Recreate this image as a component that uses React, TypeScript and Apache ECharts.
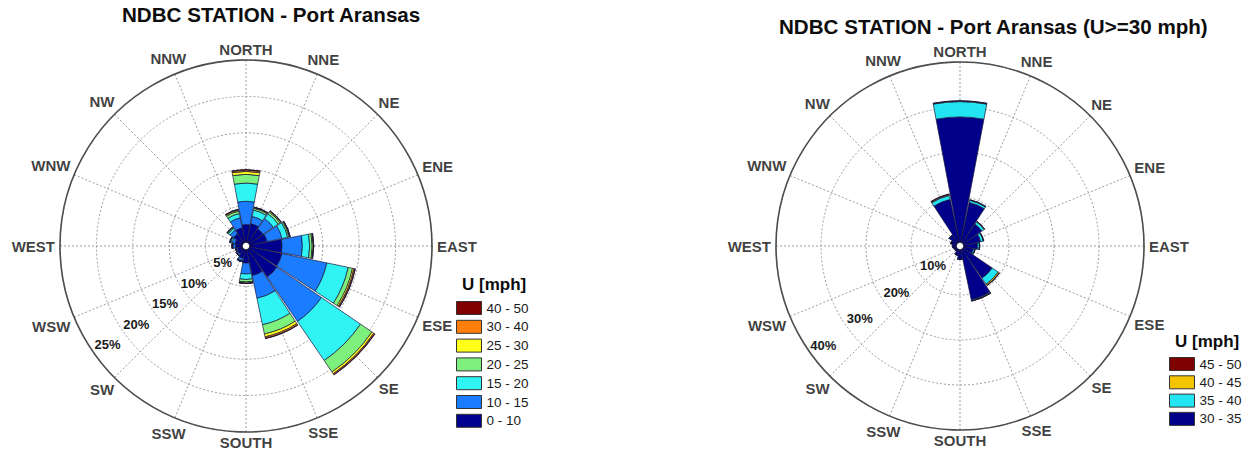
import React, { useEffect, useRef } from 'react';
import * as echarts from 'echarts';

// ---------------- data ----------------
const DIRECTIONS = ['NORTH', 'NNE', 'NE', 'ENE', 'EAST', 'ESE', 'SE', 'SSE', 'SOUTH', 'SSW', 'SW', 'WSW', 'WEST', 'WNW', 'NW', 'NNW'];

const LEFT_TITLE = 'NDBC STATION - Port Aransas';
const RIGHT_TITLE = 'NDBC STATION - Port Aransas (U>=30 mph)';
const LEGEND_TITLE = 'U [mph]';

// Left rose: frequency (%) per direction, per speed class (stacked outwards)
const LEFT_BINS = ['0 - 10', '10 - 15', '15 - 20', '20 - 25', '25 - 30', '30 - 40', '40 - 50'];
const LEFT_COLORS = ['#00008E', '#1C7CFF', '#30F4F4', '#7DF07D', '#FFFF1A', '#FF7F0A', '#800000'];
const L_0_10 = [2.4, 2.6, 2.3, 2.4, 4.4, 4.5, 4.6, 3.6, 1.8, 1.2, 0.8, 0.7, 0.9, 1.0, 1.5, 2.0];
const L_10_15 = [3.2, 1.0, 1.7, 2.1, 2.8, 6.3, 7.4, 3.2, 1.5, 0.3, 0.2, 0.15, 0.3, 0.4, 0.6, 1.4];
const L_15_20 = [2.5, 0.9, 0.8, 0.8, 1.0, 3.0, 6.5, 3.7, 0.75, 0.1, 0.05, 0.05, 0.1, 0.2, 0.3, 0.6];
const L_20_25 = [1.2, 0.25, 0.3, 0.2, 0.35, 0.6, 1.9, 1.3, 0.35, 0.05, 0.02, 0.02, 0.05, 0.1, 0.15, 0.35];
const L_25_30 = [0.4, 0.1, 0.15, 0.1, 0.15, 0.2, 0.3, 0.4, 0.15, 0.02, 0.01, 0.01, 0.02, 0.03, 0.05, 0.15];
const L_30_40 = [0.2, 0.05, 0.05, 0.05, 0.05, 0.15, 0.15, 0.2, 0.05, 0.01, 0, 0, 0.01, 0.01, 0.02, 0.1];
const L_40_50 = [0.05, 0.01, 0.01, 0.01, 0.01, 0.05, 0.05, 0.05, 0.01, 0, 0, 0, 0, 0, 0.01, 0.02];
const LEFT_VALUES = [L_0_10, L_10_15, L_15_20, L_20_25, L_25_30, L_30_40, L_40_50];
const LEFT_TICKS = [5, 10, 15, 20, 25];

// Right rose: U >= 30 mph
const RIGHT_BINS = ['30 - 35', '35 - 40', '40 - 45', '45 - 50'];
const RIGHT_COLORS = ['#00008B', '#22E4F2', '#F5C400', '#7F0000'];
const R_30_35 = [27.8, 9.0, 5.0, 3.8, 3.0, 2.2, 7.8, 11.3, 2.0, 1.2, 0.5, 0.5, 0.8, 1.2, 2.0, 9.7];
const R_35_40 = [3.4, 0.5, 0.6, 0.6, 0.4, 0.3, 1.6, 0.2, 0.1, 0, 0, 0, 0, 0, 0.1, 0.9];
const R_40_45 = [0.15, 0.1, 0.15, 0.1, 0.1, 0.05, 0.3, 0.1, 0, 0, 0, 0, 0, 0, 0, 0.2];
const R_45_50 = [0.05, 0.02, 0, 0, 0, 0, 0.1, 0.05, 0, 0, 0, 0, 0, 0, 0, 0.15];
const RIGHT_VALUES = [R_30_35, R_35_40, R_40_45, R_45_50];
const RIGHT_TICKS = [10, 20, 30, 40];

// ---------------- helpers ----------------
const FONT = '"Liberation Sans", Arial, Helvetica, sans-serif';
const HOLE = 4;

function measure(text: string, size: number): number {
  const ctx = document.createElement('canvas').getContext('2d');
  if (!ctx) return text.length * size * 0.66;
  ctx.font = `bold ${size}px ${FONT}`;
  return ctx.measureText(text).width;
}

function compassData(R: number, max: number) {
  return DIRECTIONS.map((d, i) => {
    const bearing = i * 22.5;
    const th = (bearing * Math.PI) / 180;
    const w = measure(d, 15);
    const rc = R + 5 + (w / 2) * Math.abs(Math.sin(th)) + 5.5 * Math.abs(Math.cos(th));
    return { name: d, value: [((rc - HOLE) / (R - HOLE)) * max, bearing] };
  });
}

interface RoseCfg {
  key: string;
  base: number;
  center: [number, number];
  R: number;
  ticks: number[];
  labelRadius: [number, number];
  labelAngle: number;
  bins: string[];
  colors: string[];
  values: number[][];
}

function buildRose(c: RoseCfg) {
  const max = c.ticks[c.ticks.length - 1];
  const interval = c.ticks[1] - c.ticks[0];
  const gridLine = { color: '#9c9c9c', type: [2, 2] as any, width: 1 };
  const polar = [
    { center: c.center, radius: [HOLE, c.R] },
    { center: c.center, radius: [HOLE, c.R] },
    { center: c.center, radius: c.labelRadius },
  ];
  const angleAxis = [
    {
      polarIndex: c.base,
      type: 'category',
      data: DIRECTIONS,
      startAngle: 90 + 11.25,
      clockwise: true,
      boundaryGap: true,
      axisLine: { show: true, lineStyle: { color: '#4d4d4d', width: 1.6 } },
      axisTick: { show: false },
      axisLabel: { show: false },
      splitLine: { show: false },
      splitArea: { show: false },
    },
    {
      polarIndex: c.base + 1,
      type: 'value',
      min: 0,
      max: 360,
      interval: 22.5,
      startAngle: 90,
      clockwise: true,
      axisLine: { show: false },
      axisTick: { show: false },
      axisLabel: { show: false },
      splitLine: { show: true, lineStyle: gridLine },
      splitArea: { show: false },
    },
    {
      polarIndex: c.base + 2,
      type: 'value',
      min: 0,
      max: 360,
      startAngle: c.labelAngle,
      axisLine: { show: false },
      axisTick: { show: false },
      axisLabel: { show: false },
      splitLine: { show: false },
      splitArea: { show: false },
    },
  ];
  const radiusAxis = [
    {
      polarIndex: c.base,
      type: 'value',
      min: 0,
      max,
      axisLine: { show: false },
      axisTick: { show: false },
      axisLabel: { show: false },
      splitLine: { show: false },
      splitArea: { show: false },
    },
    {
      polarIndex: c.base + 1,
      type: 'value',
      min: 0,
      max,
      interval,
      axisLine: { show: false },
      axisTick: { show: false },
      axisLabel: { show: false },
      splitLine: { show: true, lineStyle: gridLine },
      splitArea: { show: false },
    },
    {
      polarIndex: c.base + 2,
      type: 'value',
      min: 0,
      max,
      interval,
      axisLine: { show: false },
      axisTick: { show: false },
      splitLine: { show: false },
      splitArea: { show: false },
      axisLabel: {
        show: true,
        margin: 0,
        rotate: 0,
        align: 'center',
        verticalAlign: 'middle',
        fontFamily: FONT,
        fontWeight: 'bold',
        fontSize: 13,
        color: '#1a1a1a',
        formatter: (v: number) => (c.ticks.indexOf(v) >= 0 ? `${v}%` : ''),
      },
    },
  ];
  const series: any[] = c.bins.map((name, i) => ({
    name,
    type: 'bar',
    coordinateSystem: 'polar',
    polarIndex: c.base,
    stack: c.key,
    barCategoryGap: '5%',
    silent: true,
    itemStyle: { color: c.colors[i], borderColor: '#16163a', borderWidth: 0.7 },
    data: c.values[i],
    z: 3,
  }));
  series.push({
    name: `compass-${c.key}`,
    type: 'scatter',
    coordinateSystem: 'polar',
    polarIndex: c.base + 1,
    symbolSize: 1,
    clip: false,
    silent: true,
    itemStyle: { color: 'rgba(0,0,0,0)' },
    label: {
      show: true,
      position: 'inside',
      formatter: (p: any) => p.name,
      fontFamily: FONT,
      fontWeight: 'bold',
      fontSize: 15,
      color: '#0d0d0d',
    },
    labelLayout: { hideOverlap: false },
    data: compassData(c.R, max),
    z: 4,
  });
  const legend = {
    data: [...c.bins].reverse(),
    orient: 'vertical',
    itemWidth: 25,
    itemHeight: 13,
    padding: 0,
    selectedMode: false,
    icon: 'rect',
    textStyle: { fontFamily: FONT, fontSize: 13.5, color: '#1a1a1a', lineHeight: 14 },
    itemStyle: { borderColor: '#333', borderWidth: 1 },
  };
  return { polar, angleAxis, radiusAxis, series, legend };
}

export default function App() {
  const ref = useRef<HTMLDivElement>(null);

  useEffect(() => {
    if (!ref.current) return;
    const chart = echarts.init(ref.current, undefined, { renderer: 'svg' });

    const left = buildRose({
      key: 'L',
      base: 0,
      center: [246, 246],
      R: 186,
      ticks: LEFT_TICKS,
      labelRadius: [-6.5, 170],
      labelAngle: 215.5,
      bins: LEFT_BINS,
      colors: LEFT_COLORS,
      values: LEFT_VALUES,
    });
    const right = buildRose({
      key: 'R',
      base: 3,
      center: [960, 246],
      R: 184,
      ticks: RIGHT_TICKS,
      labelRadius: [-11.8, 169],
      labelAngle: 216,
      bins: RIGHT_BINS,
      colors: RIGHT_COLORS,
      values: RIGHT_VALUES,
    });

    const titleStyle = { fontFamily: FONT, fontWeight: 'bold', color: '#0d0d0d' };

    chart.setOption({
      animation: false,
      backgroundColor: '#ffffff',
      title: [
        { text: LEFT_TITLE, left: 122, top: 4, padding: 0, textStyle: { ...titleStyle, fontSize: 20.6 } },
        { text: RIGHT_TITLE, left: 779, top: 16, padding: 0, textStyle: { ...titleStyle, fontSize: 20.6 } },
        { text: LEGEND_TITLE, left: 462, top: 276, padding: 0, textStyle: { ...titleStyle, fontSize: 17 } },
        { text: LEGEND_TITLE, left: 1175, top: 333, padding: 0, textStyle: { ...titleStyle, fontSize: 17 } },
      ],
      legend: [
        { ...left.legend, left: 456, top: 301, itemGap: 4.8 },
        { ...right.legend, left: 1169, top: 357, itemGap: 4.3 },
      ],
      polar: [...left.polar, ...right.polar],
      angleAxis: [...left.angleAxis, ...right.angleAxis],
      radiusAxis: [...left.radiusAxis, ...right.radiusAxis],
      series: [...left.series, ...right.series],
    });

    return () => {
      chart.dispose();
    };
  }, []);

  return (
    <div
      ref={ref}
      style={{ position: 'fixed', left: 0, top: 0, width: 1248, height: 457, background: '#fff' }}
    />
  );
}
